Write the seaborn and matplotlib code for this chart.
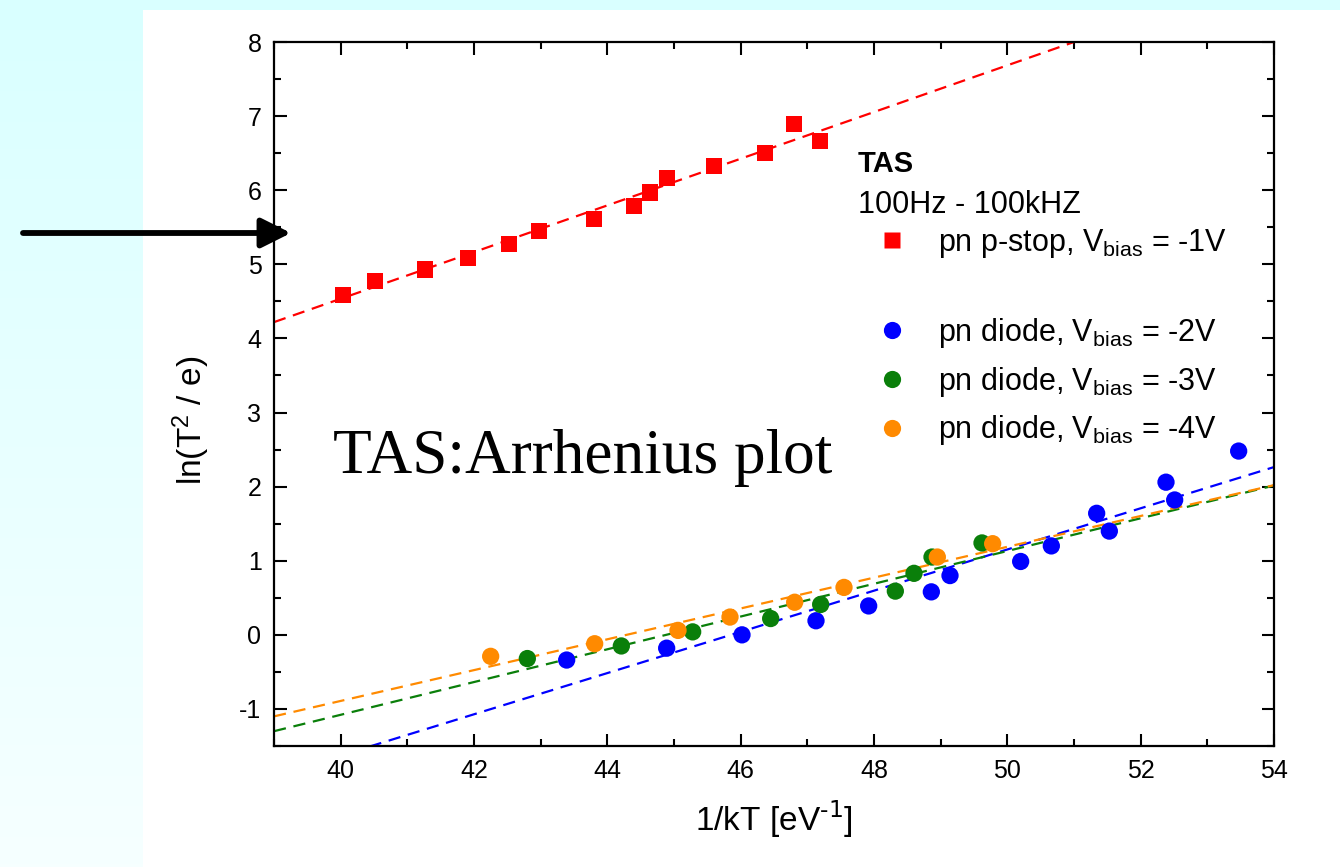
import numpy as np
import pandas as pd
import matplotlib
matplotlib.use("Agg")
import matplotlib.pyplot as plt
from matplotlib.lines import Line2D
from matplotlib.patches import Rectangle, FancyArrowPatch
import seaborn as sns

# ---- data: 1/kT [eV^-1] and ln(T^2/e) ----
pstop_x = [40.03, 40.51, 41.26, 41.91, 42.53, 42.97, 43.80, 44.40, 44.64, 44.89, 45.60, 46.37, 46.80, 47.19]
pstop_y = [4.59, 4.77, 4.93, 5.09, 5.27, 5.45, 5.61, 5.79, 5.97, 6.17, 6.33, 6.50, 6.89, 6.66]

diode2_x = [43.39, 44.89, 46.02, 47.13, 47.92, 48.86, 49.14, 50.20, 50.66, 51.34, 51.53, 52.38, 52.51, 53.47]
diode2_y = [-0.34, -0.18, 0.00, 0.19, 0.39, 0.58, 0.80, 0.99, 1.20, 1.64, 1.40, 2.06, 1.82, 2.48]

diode3_x = [42.80, 44.21, 45.28, 46.45, 47.20, 48.32, 48.60, 48.87, 49.62]
diode3_y = [-0.32, -0.15, 0.04, 0.22, 0.41, 0.59, 0.83, 1.05, 1.24]

diode4_x = [42.25, 43.81, 45.06, 45.84, 46.81, 47.55, 48.95, 49.78]
diode4_y = [-0.29, -0.12, 0.06, 0.24, 0.44, 0.64, 1.05, 1.23]

# linear Arrhenius fits: ln(T^2/e) = intercept + slope * (1/kT - 39)
fit_slope = [0.315, 0.278, 0.221, 0.208]
fit_intercept = [4.22, -1.906, -1.30, -1.10]

series_labels = [
    r"pn p-stop, V$_\mathregular{bias}$ = -1V",
    r"pn diode, V$_\mathregular{bias}$ = -2V",
    r"pn diode, V$_\mathregular{bias}$ = -3V",
    r"pn diode, V$_\mathregular{bias}$ = -4V",
]
series_colors = ["#FF0000", "#0000FF", "#0A7F0A", "#FF8A00"]

x_ticks = [40, 42, 44, 46, 48, 50, 52, 54]
y_ticks = [-1, 0, 1, 2, 3, 4, 5, 6, 7, 8]

# ---- style ----
sns.set_style("ticks")
plt.rcParams["font.family"] = ["Liberation Sans", "DejaVu Sans"]
plt.rcParams["mathtext.default"] = "regular"
plt.rcParams["axes.unicode_minus"] = False
plt.rcParams["text.color"] = "black"
plt.rcParams["axes.labelcolor"] = "black"
plt.rcParams["xtick.color"] = "black"
plt.rcParams["ytick.color"] = "black"

W, H = 1340, 867
fig = plt.figure(figsize=(W / 100, H / 100), dpi=100)

# slide background: pale cyan with a white panel
bg = fig.add_axes([0, 0, 1, 1], zorder=-10)
grad = np.linspace(0, 1, 256).reshape(-1, 1)
cmap = matplotlib.colors.LinearSegmentedColormap.from_list("slide", ["#D9FFFF", "#F6FFFF"])
bg.imshow(grad, aspect="auto", cmap=cmap, extent=[0, 1, 0, 1], origin="upper")
bg.add_patch(Rectangle((143 / W, 0), 1 - 143 / W, 1 - 10 / H, color="white", lw=0))
bg.set_xlim(0, 1)
bg.set_ylim(0, 1)
bg.axis("off")

ax = fig.add_axes([274 / W, 1 - 746 / H, 1000 / W, 704 / H])
ax.set_facecolor("white")

frames = []
for xs, ys, lab in zip([pstop_x, diode2_x, diode3_x, diode4_x],
                       [pstop_y, diode2_y, diode3_y, diode4_y], series_labels):
    frames.append(pd.DataFrame({"x": xs, "y": ys, "series": lab}))
df = pd.concat(frames, ignore_index=True)

xfit = np.linspace(39, 54, 200)
dash = (5.5, 3.5)
for k, lab in enumerate(series_labels):
    fit_df = pd.DataFrame({"x": xfit, "y": fit_intercept[k] + fit_slope[k] * (xfit - 39)})
    sns.lineplot(data=fit_df, x="x", y="y", ax=ax, color=series_colors[k], lw=1.6,
                 dashes=False, linestyle=(0, dash), zorder=2, legend=False)

for k, lab in enumerate(series_labels):
    sub = df[df["series"] == lab]
    sns.scatterplot(data=sub, x="x", y="y", ax=ax, color=series_colors[k],
                    marker="s" if k == 0 else "o", s=135 if k == 0 else 155,
                    edgecolor="none", linewidth=0, zorder=3, legend=False)

ax.set_xlim(39, 54)
ax.set_ylim(-1.5, 8)
ax.set_xticks(x_ticks)
ax.set_xticks(np.arange(39, 55, 1), minor=True)
ax.set_yticks(y_ticks)
ax.set_yticks(np.arange(-1.5, 8.01, 0.5), minor=True)
ax.tick_params(which="both", direction="in", top=True, right=True, width=1.5,
               labelsize=18, pad=9, color="black", labelcolor="black")
ax.tick_params(which="major", length=9)
ax.tick_params(which="minor", length=5)
for sp in ax.spines.values():
    sp.set_linewidth(1.6)
    sp.set_color("black")

ax.set_xlabel(r"1/kT [eV$^\text{-1}$]", fontsize=24, labelpad=12)
ax.set_ylabel(r"ln(T$^2$ / e)", fontsize=24)
ax.yaxis.set_label_coords(-0.062, 0.462)

# annotation text
fig.text(333 / W, 1 - 473 / H, "TAS:Arrhenius plot", family="Liberation Serif",
         fontsize=45.5, va="baseline", ha="left", color="black")

# legend heading
fig.text(858 / W, 1 - 172 / H, "TAS", fontsize=21, fontweight="bold", va="baseline")
fig.text(858 / W, 1 - 213 / H, "100Hz - 100kHZ", fontsize=22, va="baseline")

handles = [Line2D([], [], ls="none", marker="s" if k == 0 else "o",
                  markersize=11.5 if k == 0 else 12.4, color=series_colors[k], mec="none")
           for k in range(4)]
leg1 = ax.legend(handles[:1], series_labels[:1], loc="upper left",
                 bbox_to_anchor=(877 / W, 1 - 227 / H), bbox_transform=fig.transFigure,
                 frameon=False, fontsize=22, handlelength=1.0, handletextpad=0.98,
                 borderpad=0, borderaxespad=0)
for t in leg1.get_texts():
    t.set_color("black")
ax.add_artist(leg1)
leg2 = ax.legend(handles[1:], series_labels[1:], loc="upper left",
                 bbox_to_anchor=(877 / W, 1 - 316 / H), bbox_transform=fig.transFigure,
                 frameon=False, fontsize=22, handlelength=1.0, handletextpad=0.98,
                 borderpad=0, borderaxespad=0, labelspacing=0.48)
for t in leg2.get_texts():
    t.set_color("black")

# pointer arrow
fig.add_artist(FancyArrowPatch(
    (23 / W, 1 - 233 / H), (291 / W, 1 - 233 / H), transform=fig.transFigure,
    arrowstyle="-|>,head_length=18,head_width=9", mutation_scale=1,
    lw=4.2, color="black", shrinkA=0, shrinkB=0, zorder=20))

fig.savefig("out.png", dpi=100)
